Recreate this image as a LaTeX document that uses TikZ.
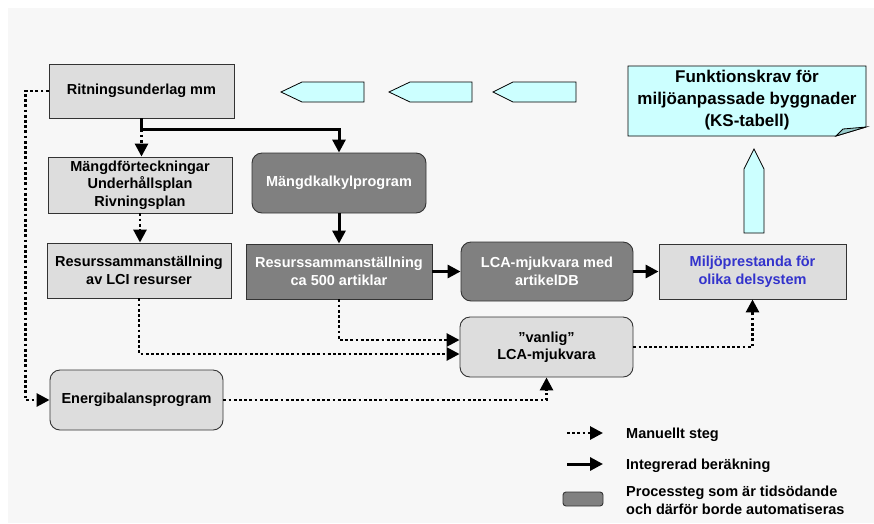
\documentclass[tikz,border=0pt]{standalone}
\usepackage{fontspec}
\setmainfont{Liberation Sans}
\usetikzlibrary{arrows.meta}
\definecolor{bg}{HTML}{F7F7F7}
\definecolor{lgray}{HTML}{DDDDDD}
\definecolor{dgray}{HTML}{808080}
\definecolor{cyanfill}{HTML}{CCFFFF}
\definecolor{foldc}{HTML}{99CCCC}
\definecolor{bordc}{HTML}{333333}
\definecolor{bluetext}{HTML}{3333CC}
\begin{document}
\begin{tikzpicture}[x=1pt,y=-1pt,
  txt/.style={font=\bfseries\fontsize{14.5}{17.5}\selectfont, align=center, inner sep=0pt},
  box/.style={txt, draw=bordc, line width=0.9pt, fill=lgray},
  darkbox/.style={box, fill=dgray, text=white},
  rbox/.style={rounded corners=10pt},
  cyanshape/.style={draw=black, line width=0.8pt, fill=cyanfill},
  solidarrow/.style={line width=3pt, -{Triangle[length=13pt,width=13pt]}},
  dotarrow/.style={line width=2.8pt, dash pattern=on 2.8pt off 2.4pt, -{Triangle[length=13pt,width=13pt]}},
  legtext/.style={txt, align=left, anchor=base west}
]
\useasboundingbox (0,0) rectangle (874,523);
\fill[white] (0,0) rectangle (874,523);
\fill[bg] (8,8) rectangle (874,523);

% cyan shapes
\draw[cyanshape] (281,92) -- (302,82) -- (364,82) -- (364,102) -- (302,102) -- cycle;
\draw[cyanshape] (389,92) -- (410,82) -- (472,82) -- (472,102) -- (410,102) -- cycle;
\draw[cyanshape] (493,92) -- (513,82) -- (576,82) -- (576,102) -- (513,102) -- cycle;
\draw[cyanshape] (754,149) -- (764,169) -- (764,233) -- (744,233) -- (744,169) -- cycle;
\draw[cyanshape] (628,66) -- (866,66) -- (866,127) -- (836,136) -- (628,136) -- cycle;
\draw[draw=black, line width=0.8pt, fill=foldc] (836,136) -- (843,129) -- (866,127) -- cycle;

% nodes
\node[txt, font=\bfseries\fontsize{17}{22}\selectfont] (funk) at (747,100)
  {Funktionskrav för\\miljöanpassade byggnader\\(KS-tabell)};
\node[box, minimum width=185pt, minimum height=54pt] (ritn) at (141.5,91) {Ritningsunderlag mm};
\node[box, minimum width=184pt, minimum height=56pt] (mfort) at (140,185) {Mängdförteckningar\\Underhållsplan\\Rivningsplan};
\node[box, minimum width=184pt, minimum height=55pt] (rlci) at (139,270.5) {Resurssammanställning\\av LCI resurser};
\node[darkbox, rbox, minimum width=174pt, minimum height=60pt] (mkalk) at (339,183) {Mängdkalkylprogram};
\node[darkbox, minimum width=186pt, minimum height=55pt] (r500) at (339,271.5) {Resurssammanställning\\ca 500 artiklar};
\node[darkbox, rbox, minimum width=172pt, minimum height=59pt] (lca) at (547,271.5) {LCA-mjukvara med\\artikelDB};
\node[box, text=bluetext, minimum width=187pt, minimum height=55pt] (milj) at (752.5,271.5) {Miljöprestanda för\\olika delsystem};
\node[box, rbox, minimum width=173pt, minimum height=60pt] (vanlig) at (546.5,347) {”vanlig”\\LCA-mjukvara};
\node[box, rbox, minimum width=173pt, minimum height=60pt] (energ) at (136.5,400) {Energibalansprogram};

% connectors
\path (ritn.south) ++(0,11) coordinate (split);
\draw[solidarrow] (ritn.south) -- (split) -| (mkalk.north);
\draw[dotarrow] (split) -- (split |- mfort.north);
\draw[dotarrow] (mfort.south) -- (mfort.south |- rlci.north);
\draw[solidarrow] (mkalk.south) -- (r500.north);
\draw[solidarrow] (r500.east) -- (lca.west);
\draw[solidarrow] (lca.east) -- (milj.west);
\draw[dotarrow] (ritn.west) -- ++(-23,0) |- (energ.west);
\draw[dotarrow] (rlci.south) |- ([yshift=-7pt]vanlig.west);
\draw[dotarrow] (r500.south) |- ([yshift=7pt]vanlig.west);
\draw[dotarrow] (energ.east) -| (vanlig.south);
\draw[dotarrow] (vanlig.east) -| (milj.south);

% legend
\coordinate (m1) at (567,433);
\coordinate (m2) at (603,433);
\coordinate (i1) at (567,464);
\coordinate (i2) at (603,464);
\draw[dotarrow] (m1) -- (m2);
\draw[solidarrow] (i1) -- (i2);
\node[darkbox, rounded corners=3pt, minimum width=40pt, minimum height=14pt] (lbox) at (583,499) {};
\node[legtext] (lt1) at (626,438) {Manuellt steg};
\node[legtext] (lt2) at (626,469) {Integrerad beräkning};
\node[legtext, anchor=north west] (lt3) at (626,486) {Processteg som är tidsödande\\och därför borde automatiseras};
\end{tikzpicture}
\end{document}
